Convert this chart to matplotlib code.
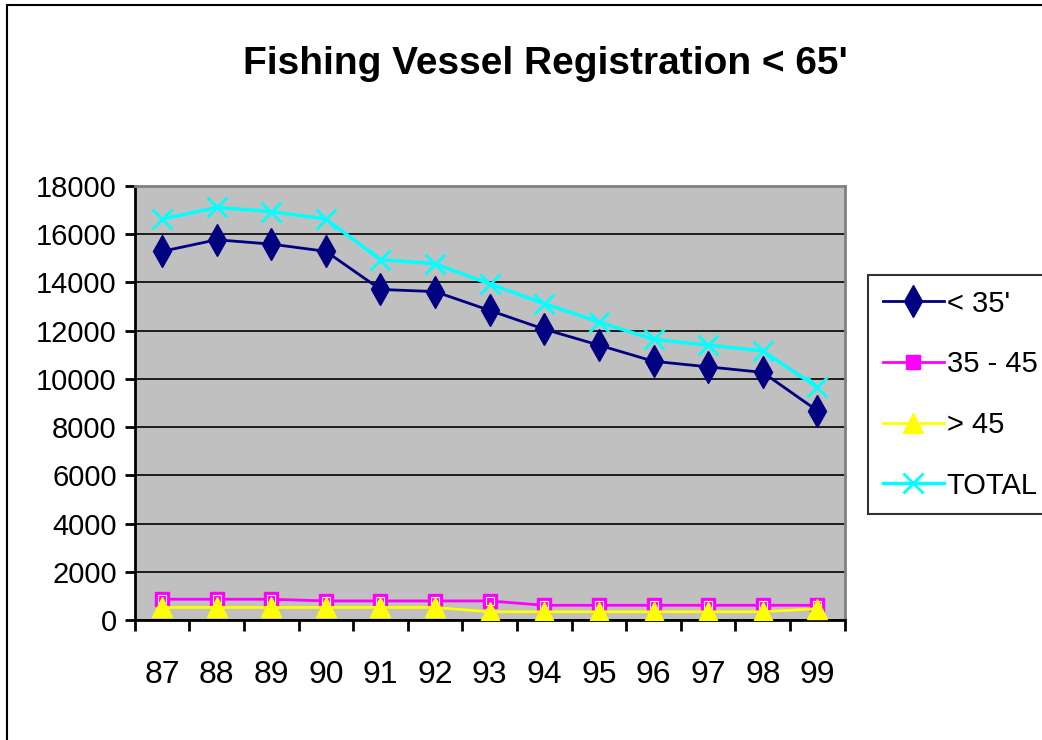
import matplotlib
matplotlib.use("Agg")
import matplotlib.pyplot as plt
from matplotlib.patches import Rectangle

years = ["87", "88", "89", "90", "91", "92", "93", "94", "95", "96", "97", "98", "99"]
under_35 = [15290, 15770, 15590, 15290, 13710, 13620, 12840, 12060, 11400, 10730, 10500, 10270, 8680]
from_35_45 = [860, 860, 860, 790, 790, 790, 790, 610, 610, 610, 610, 610, 610]
over_45 = [520, 520, 520, 520, 520, 520, 340, 340, 340, 340, 340, 340, 470]
total = [16630, 17110, 16940, 16630, 14950, 14770, 13940, 13120, 12360, 11640, 11400, 11160, 9650]
y_ticks = list(range(0, 18001, 2000))

plt.rcParams['font.family'] = ['Liberation Sans', 'DejaVu Sans']

W, H = 1042, 740
fig = plt.figure(figsize=(W / 100, H / 100), dpi=100)
fig.patch.set_facecolor('white')

ax = fig.add_axes([134.7 / W, 1 - 620 / H, 710 / W, 434 / H])
ax.set_facecolor('#C0C0C0')

x = list(range(len(years)))
ax.plot(x, under_35, color='#000080', lw=2, marker='d', ms=16,
        mfc='#000080', mec='#000080', label="< 35'", zorder=3)
ax.plot(x, from_35_45, color='#FF00FF', lw=2, marker='s', ms=10,
        mfc='#FF00FF', mec='#FF00FF', label="35 - 45", zorder=3)
ax.plot(x, from_35_45, lw=0, marker='s', ms=6, mfc='none', mec='white',
        mew=0.8, zorder=3)
ax.plot(x, over_45, color='#FFFF00', lw=2, marker='^', ms=14,
        mfc='#FFFF00', mec='#FFFF00', label="> 45", zorder=4)
ax.plot(x, total, color='#00FFFF', lw=2.5, marker='x', ms=15, mew=2,
        label="TOTAL", zorder=5)

ax.set_xlim(-0.5, len(years) - 0.5)
ax.set_ylim(0, 18000)
ax.set_yticks(y_ticks)
ax.set_yticklabels([str(v) for v in y_ticks])
ax.yaxis.grid(True, color='black', lw=1.2)
ax.set_axisbelow(True)

ax.set_xticks(x)
ax.set_xticklabels(years)
ax.set_xticks([i - 0.5 for i in range(len(years) + 1)], minor=True)
ax.tick_params(axis='x', which='major', length=0, labelsize=23, pad=29)
ax.tick_params(axis='x', which='minor', length=8, width=2, direction='out')
ax.tick_params(axis='y', length=7, width=2, direction='out', labelsize=21, pad=6)

for side in ['left', 'bottom']:
    ax.spines[side].set_color('black')
    ax.spines[side].set_linewidth(2)
for side in ['top', 'right']:
    ax.spines[side].set_color('#808080')
    ax.spines[side].set_linewidth(2)

fig.text(545 / W, 1 - 64 / H, "Fishing Vessel Registration < 65'",
         ha='center', va='center', fontsize=28, fontweight='bold')

leg = fig.legend(loc='upper left', bbox_to_anchor=(868 / W, 1 - 275 / H),
                 fontsize=21, frameon=True, fancybox=False, handlelength=2.1,
                 handletextpad=0.1, labelspacing=1.12, borderpad=0.5,
                 borderaxespad=0)
leg.get_frame().set_edgecolor('black')
leg.get_frame().set_linewidth(1.5)

fig.add_artist(Rectangle((7 / W, -0.1), 1.2, 1 - 5 / H + 0.1,
                         transform=fig.transFigure, fill=False,
                         edgecolor='black', lw=1.5))

fig.savefig('out.png', dpi=100)
